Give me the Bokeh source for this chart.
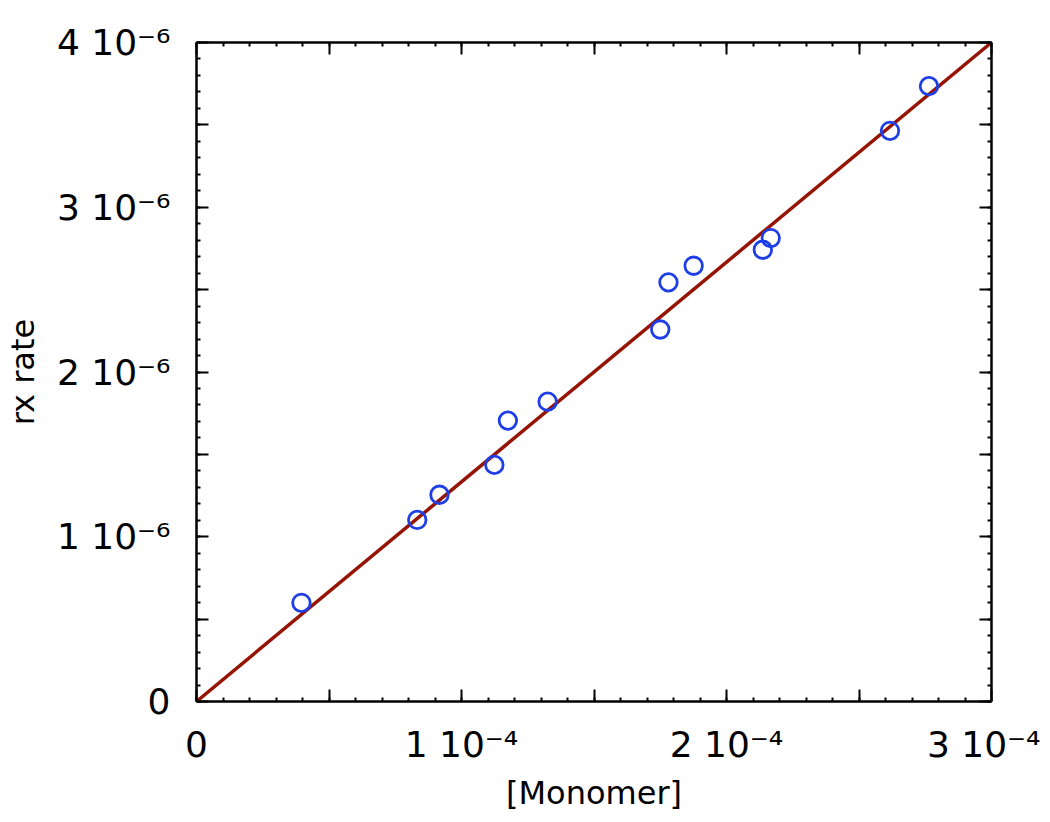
from bokeh.plotting import figure
from bokeh.models import Range1d, FixedTicker, LinearAxis
from bokeh.embed import file_html
from bokeh.resources import INLINE

# ---- data ----
monomer = [0.396e-4, 0.833e-4, 0.917e-4, 1.124e-4, 1.175e-4, 1.325e-4,
           1.750e-4, 1.781e-4, 1.876e-4, 2.137e-4, 2.167e-4, 2.617e-4, 2.764e-4]
rate = [0.599e-6, 1.102e-6, 1.255e-6, 1.436e-6, 1.705e-6, 1.820e-6,
        2.258e-6, 2.544e-6, 2.645e-6, 2.742e-6, 2.813e-6, 3.464e-6, 3.735e-6]
fit_x = [0.0, 3.0e-4]
fit_y = [0.0, 4.0e-6]

x_major = [0.0, 0.5e-4, 1e-4, 1.5e-4, 2e-4, 2.5e-4, 3e-4]
x_minor = [i * 0.1e-4 for i in range(31)]
y_major = [0.0, 0.5e-6, 1e-6, 1.5e-6, 2e-6, 2.5e-6, 3e-6, 3.5e-6, 4e-6]
y_minor = [i * 0.1e-6 for i in range(41)]

x_labels = {0.0: "0", 1e-4: "1 10\u207b\u2074", 2e-4: "2 10\u207b\u2074", 3e-4: "3 10\u207b\u2074"}
y_labels = {0.0: "0", 1e-6: "1 10\u207b\u2076", 2e-6: "2 10\u207b\u2076",
            3e-6: "3 10\u207b\u2076", 4e-6: "4 10\u207b\u2076"}

FONT = "DejaVu Sans"

p = figure(width=1040, height=814,
           x_range=Range1d(0, 3e-4), y_range=Range1d(0, 4e-6),
           min_border_left=195, min_border_right=49,
           min_border_top=42, min_border_bottom=111,
           output_backend="svg", toolbar_location=None,
           x_axis_location=None, y_axis_location=None)
p.xgrid.visible = False
p.ygrid.visible = False
p.outline_line_color = None
p.background_fill_color = "white"
p.border_fill_color = "white"


def style_axis(ax, major, minor, labels):
    ax.ticker = FixedTicker(ticks=major, minor_ticks=minor)
    ax.major_tick_in = 12
    ax.major_tick_out = 0
    ax.minor_tick_in = 4
    ax.minor_tick_out = 0
    ax.axis_line_width = 2.5
    ax.axis_line_color = "black"
    ax.major_tick_line_width = 2
    ax.minor_tick_line_width = 2
    ax.major_tick_line_color = "black"
    ax.minor_tick_line_color = "black"
    if labels is None:
        ax.major_label_text_font_size = "0px"
        ax.major_label_standoff = 0
        ax.major_label_overrides = {v: "" for v in major}
    else:
        ov = {v: "" for v in major}
        ov.update(labels)
        ax.major_label_overrides = ov
        ax.major_label_text_font = FONT
        ax.major_label_text_font_size = "36px"
        ax.major_label_text_color = "black"
    ax.axis_label_text_font = FONT
    ax.axis_label_text_font_style = "normal"
    ax.axis_label_text_font_size = "32px"
    ax.axis_label_text_color = "black"


xb = LinearAxis(axis_label="[Monomer]")
style_axis(xb, x_major, x_minor, x_labels)
xb.major_label_standoff = 22
xb.axis_label_standoff = 6
p.add_layout(xb, "below")

xt = LinearAxis()
style_axis(xt, x_major, x_minor, None)
p.add_layout(xt, "above")

yl = LinearAxis(axis_label="rx rate")
style_axis(yl, y_major, y_minor, y_labels)
yl.major_label_standoff = 26
yl.axis_label_standoff = 12
p.add_layout(yl, "left")

yr = LinearAxis()
style_axis(yr, y_major, y_minor, None)
p.add_layout(yr, "right")

p.line(fit_x, fit_y, line_color="#961405", line_width=3.5)
p.scatter(monomer, rate, marker="circle", size=17.5, fill_color=None,
          line_color="#1f3fe6", line_width=2.8)

open("out.html", "w").write(file_html(p, INLINE))
